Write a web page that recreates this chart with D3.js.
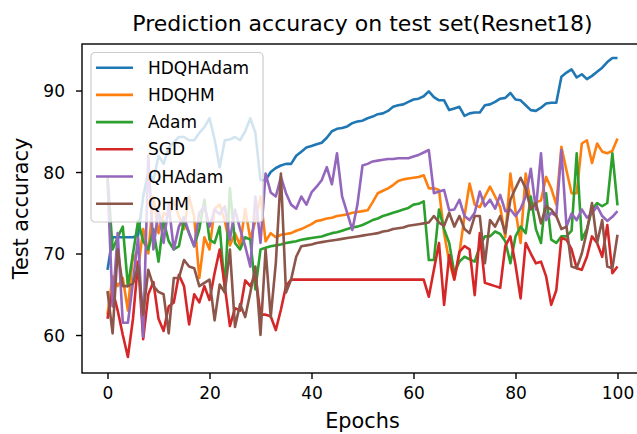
<!DOCTYPE html>
<html>
<head>
<meta charset="utf-8">
<script src="https://cdn.jsdelivr.net/npm/d3@7"></script>
<style>
  body { margin: 0; background: #fff; }
  text { font-family: "DejaVu Sans", sans-serif; fill: #000; }
</style>
</head>
<body>
<div id="chart"></div>
<script>
// chart values
var seriesNames = ['HDQHAdam', 'HDQHM', 'Adam', 'SGD', 'QHAdam', 'QHM'];
var seriesColors = ['#1f77b4', '#ff7f0e', '#2ca02c', '#d62728', '#9467bd', '#8c564b'];
var xTicks = [0, 20, 40, 60, 80, 100];
var yTicks = [60, 70, 80, 90];

var hdqhadam = [68, 72, 72, 72, 72, 72, 72.2, 77, 80, 79,
  82, 81, 83, 83.6, 84.3, 84.3, 83.9, 83.9, 84.8, 85.5,
  86.6, 84, 80.6, 83.9, 84, 84.3, 83.9, 85, 86.6, 84.8,
  79, 79, 80, 80.5, 80.8, 81, 81, 82, 82.5, 83,
  83.2, 83.4, 83.6, 84.2, 85, 85.3, 85.4, 85.6, 86, 86.2,
  86.3, 86.6, 86.8, 87.1, 87.2, 87.5, 88, 88.2, 88.3, 88.6,
  88.9, 89, 89.3, 89.9, 89.2, 88.8, 88.8, 87.6, 87.8, 88,
  86.9, 87.2, 87.3, 87.3, 88.2, 88.3, 88.6, 89, 89.1, 89.7,
  88.9, 88.8, 88.2, 87.6, 87.5, 87.9, 88.4, 88.5, 88.5, 91.7,
  92.2, 92.6, 91.6, 92, 91.4, 91.8, 92.3, 92.8, 93.5, 94, 94];

var hdqhm = [62.5, 67.2, 66, 67, 63, 70, 68, 73, 70, 77,
  72.5, 75, 74.5, 76.5, 74.5, 73, 77, 74.5, 67, 72,
  70.5, 75.5, 76, 74, 71, 72.5, 71, 75.5, 71.8, 74,
  77, 71.5, 72.5, 72, 72.3, 72.4, 72.5, 72.8, 73, 73.3,
  73.6, 74, 74.1, 74.3, 74.4, 74.6, 74.7, 74.8, 75, 75.1,
  75.2, 75.3, 76.3, 77.4, 77.7, 78, 78.4, 78.9, 79.1, 79.2,
  79.3, 79.4, 79.6, 78, 78, 77.8, 72.5, 69, 66.8, 70,
  74.6, 78.6, 76, 75.7, 77, 78.2, 77, 75.7, 72, 79.8,
  75.3, 71.3, 79.8, 76, 76.3, 76.5, 79.4, 78, 76, 83.1,
  80.2, 77.4, 77.4, 83.5, 83.9, 81.1, 83.5, 82.5, 82.3, 82.6, 84.1];

var adam = [79.6, 70.5, 72, 73.3, 66, 70, 74, 71.5, 70.5, 73,
  69, 74, 71.5, 70.5, 70.9, 74, 72.5, 70.9, 73, 76.6,
  71.7, 71.3, 73.3, 65.6, 78, 71.3, 70.5, 72, 71.7, 65.6,
  70.5, 70.7, 70.9, 71, 71.1, 71.3, 71.4, 71.5, 71.7, 71.8,
  71.9, 72, 72.1, 72.3, 72.5, 72.6, 72.8, 73, 73.2, 73.3,
  73.5, 73.8, 74.1, 74.3, 74.6, 74.8, 75, 75.2, 75.4, 75.6,
  76, 76.1, 76.4, 69.2, 69.2, 75.4, 73, 71.3, 67.6, 69,
  69.6, 69.3, 69, 70.9, 72.1, 72.1, 72.7, 72.4, 71.5, 68.8,
  72.1, 73.3, 72.5, 77, 73, 71.3, 77.4, 71.7, 71.3, 72.1,
  72.1, 72.8, 82.3, 71.7, 73, 75.4, 76.2, 75.8, 76.2, 82.3, 75.9];

var sgd = [62, 65.5, 63, 60, 57.3, 62, 69, 59.5, 65, 66.5,
  62, 60.5, 63.5, 64, 67.4, 66, 61.3, 65, 64, 66,
  64.3, 67.6, 70.5, 66, 61.1, 63.3, 63, 66.7, 66, 67.4,
  62.5, 62.5, 62.3, 60.6, 63.1, 66, 66.8, 66.8, 66.8, 66.8,
  66.8, 66.8, 66.8, 66.8, 66.8, 66.8, 66.8, 66.8, 66.8, 66.8,
  66.8, 66.8, 66.8, 66.8, 66.8, 66.8, 66.8, 66.8, 66.8, 66.8,
  66.8, 66.8, 66.8, 64.7, 68, 71.3, 63.7, 69.8, 66.8, 70.2,
  70.9, 70.5, 64.9, 72.5, 66.4, 66.2, 66, 65.8, 70.9, 72.1,
  68.6, 64.5, 71.3, 70, 68.8, 69, 67.2, 63.7, 65.5, 71.9,
  71.7, 70.5, 68.2, 68, 69.6, 72.1, 71.3, 69.6, 73.5, 67.6, 68.4];

var qhadam = [79, 63.5, 72.5, 61.5, 61.5, 66.5, 72, 59.8, 82, 70.5,
  75.5, 71.3, 76, 70.5, 73.3, 74.5, 72.5, 70.9, 75, 75.8,
  73.3, 75.4, 74.8, 75.8, 71.7, 75.4, 73, 70.9, 68.4, 77,
  71.3, 79.8, 77.5, 77, 79.4, 77.4, 76, 75.5, 77, 76,
  77.5, 78.2, 79, 80.6, 78.5, 82.3, 77, 75, 72.9, 76,
  80.8, 81, 81.3, 81.4, 81.5, 81.6, 81.6, 81.7, 81.7, 81.7,
  81.9, 82.1, 82.4, 82.7, 77.4, 77.6, 77.8, 75.3, 75.4, 76.6,
  74.6, 74.1, 75, 77.6, 75.8, 76.6, 75.5, 77.2, 75.2, 75.4,
  74.6, 75.5, 77, 80.4, 75.4, 82.3, 74.1, 75, 74.6, 82.7,
  73.3, 74.9, 74.1, 75.4, 74.4, 74.9, 75.8, 74.6, 74, 74.5, 75.2];

var qhm = [65.4, 60.2, 70.5, 66, 66, 66.3, 68.5, 62.5, 68, 66,
  65.3, 65, 60.2, 67, 67, 69.2, 68.4, 68.2, 66, 66.4,
  66.8, 61.8, 66.2, 65.2, 70.5, 61, 63.8, 62.2, 65.2, 68.4,
  60, 70.5, 62.2, 68.8, 79.8, 65.2, 66.8, 69.6, 70.9, 71,
  71.1, 71.3, 71.4, 71.5, 71.6, 71.7, 71.8, 71.9, 72, 72.1,
  72.2, 72.3, 72.4, 72.5, 72.7, 72.8, 73, 73.1, 73.2, 73.4,
  73.5, 73.6, 73.7, 73.8, 74.6, 73.8, 73.4, 75, 73.3, 74.6,
  73, 72.5, 74.6, 74.6, 68.8, 74.1, 73.3, 74.6, 72.5, 76.6,
  78, 79.3, 78, 75.4, 76.2, 73.7, 75.8, 75.4, 74.6, 73,
  73.3, 68.4, 68.2, 70, 72.7, 76.2, 71.3, 74.1, 68.4, 68.2, 72.3];

var seriesValues = [hdqhadam, hdqhm, adam, sgd, qhadam, qhm];

var svgWidth = 637;
var svgHeight = 434;

// axes box (the right spine falls just outside the picture)
var margins = { top: 44, left: 82 };
var width = 561;
var height = 329;

var svg = d3.select('#chart')
    .append('svg')
    .attr('width', svgWidth)
    .attr('height', svgHeight);

var chartGroup = svg.append('g')
    .attr('transform', `translate(${margins.left}, ${margins.top})`);

var xScale = d3.scaleLinear()
    .domain([-5, 105])
    .range([0, width]);

var yScale = d3.scaleLinear()
    .domain([55.34, 95.71])
    .range([height, 0]);

// clip lines to the axes
svg.append('defs').append('clipPath')
    .attr('id', 'plotClip')
    .append('rect')
    .attr('width', width)
    .attr('height', height);

var line = d3.line()
    .x((d, i) => xScale(i))
    .y(d => yScale(d));

var linesGroup = chartGroup.append('g').attr('clip-path', 'url(#plotClip)');

seriesValues.forEach(function(vals, k) {
    linesGroup.append('path')
        .datum(vals)
        .attr('d', line)
        .attr('fill', 'none')
        .attr('stroke', seriesColors[k])
        .attr('stroke-width', 2.6)
        .attr('stroke-linejoin', 'round');
});

// axes
var bottomAxis = d3.axisBottom(xScale)
    .tickValues(xTicks)
    .tickSize(6)
    .tickPadding(5);
var leftAxis = d3.axisLeft(yScale)
    .tickValues(yTicks)
    .tickSize(6)
    .tickPadding(11);

var xAxisG = chartGroup.append('g')
    .attr('transform', `translate(0, ${height})`)
    .call(bottomAxis);
var yAxisG = chartGroup.append('g')
    .call(leftAxis);

[xAxisG, yAxisG].forEach(function(g) {
    g.select('.domain').remove();
    g.selectAll('.tick line').attr('stroke', '#000').attr('stroke-width', 1.4);
    g.selectAll('.tick text')
        .style('font-size', '17px')
        .style('font-family', '"DejaVu Sans", sans-serif')
        .attr('fill', '#000');
});
xAxisG.selectAll('.tick text').attr('y', 0).attr('dy', '1.5em');
yAxisG.selectAll('.tick text').attr('dy', '0.36em');

// spines
chartGroup.append('rect')
    .attr('width', width)
    .attr('height', height)
    .attr('fill', 'none')
    .attr('stroke', '#000')
    .attr('stroke-width', 1.4);

// legend
var legendX = 9;
var legendY = 8.5;
var rowGap = 27.2;

var legend = chartGroup.append('g')
    .attr('transform', `translate(${legendX}, ${legendY})`);

legend.append('rect')
    .attr('width', 172)
    .attr('height', 169.5)
    .attr('rx', 4)
    .attr('fill', 'rgba(255,255,255,0.8)')
    .attr('stroke', '#cccccc')
    .attr('stroke-width', 1.2);

seriesNames.forEach(function(name, k) {
    var cy = 15.2 + k * rowGap;
    legend.append('line')
        .attr('x1', 5)
        .attr('x2', 42)
        .attr('y1', cy)
        .attr('y2', cy)
        .attr('stroke', seriesColors[k])
        .attr('stroke-width', 2.6);
    legend.append('text')
        .attr('x', 57)
        .attr('y', cy + 6)
        .style('font-size', '17px')
        .text(name);
});

// title and axis labels
svg.append('text')
    .attr('x', margins.left + width / 2)
    .attr('y', 31)
    .attr('text-anchor', 'middle')
    .style('font-size', '22px')
    .text('Prediction accuracy on test set(Resnet18)');

svg.append('text')
    .attr('x', margins.left + width / 2)
    .attr('y', 428)
    .attr('text-anchor', 'middle')
    .style('font-size', '20.8px')
    .text('Epochs');

svg.append('text')
    .attr('transform', `translate(28, ${margins.top + height / 2}) rotate(-90)`)
    .attr('text-anchor', 'middle')
    .style('font-size', '20.8px')
    .text('Test accuracy');
</script>
</body>
</html>
